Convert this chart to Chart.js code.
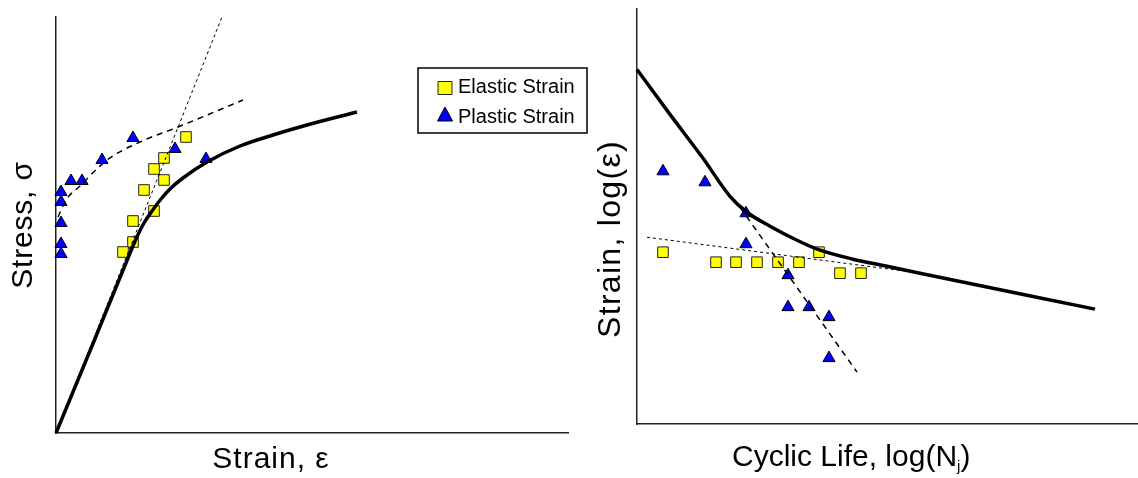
<!DOCTYPE html>
<html>
<head>
    <title>Stress-Strain and Strain-Life</title>
    <script src="https://cdn.jsdelivr.net/npm/chart.js"></script>
    <style>
        html, body {
            margin: 0;
            overflow: hidden;
            background-color: white;
            font-family: "Liberation Sans", Arial, sans-serif;
        }

        .panel {
            position: absolute;
            top: 0;
        }

        canvas {
            display: block;
        }

        #stressPanel { left: 0; width: 600px; height: 478px; }
        #lifePanel { left: 570px; width: 580px; height: 478px; }
    </style>
</head>
<body>
    <div class="panel" id="stressPanel"><canvas id="stressChart" width="600" height="478"></canvas></div>
    <div class="panel" id="lifePanel"><canvas id="lifeChart" width="580" height="478"></canvas></div>

    <script>
        // Left panel: stress vs strain (arbitrary units, origin at axes corner)
        const stressCurveX = [0, 36, 72, 80, 88, 96, 105, 115, 127, 151, 184, 217, 251, 301];
        const stressCurveY = [0, 87, 175, 194, 210, 222, 234, 245, 255, 271, 287, 298, 308, 321];
        const elasticFitX = [0, 166];
        const elasticFitY = [0, 416];
        const plasticFitX = [2, 10, 24, 51, 84, 122, 187];
        const plasticFitY = [216, 233, 247, 273, 291, 306, 333];
        const elasticStrainX = [130, 108, 98, 108, 88, 98, 77, 77, 67];
        const elasticStrainY = [296, 275, 264, 253, 243, 222, 212, 191, 181];
        const plasticStrainX = [5, 5, 5, 5, 5, 15, 26, 46, 77, 119, 150];
        const plasticStrainY = [241, 231, 210, 189, 179, 252, 252, 273, 295, 284, 274];

        // Right panel: log strain vs log cyclic life
        const lifeCurveX = [0, 33, 66, 93, 110, 133, 160, 183, 216, 250, 283, 458];
        const lifeCurveY = [355, 310, 266, 228, 212, 198, 184, 174, 165, 158, 151, 115];
        const plasticLifeFitX = [103, 220];
        const plasticLifeFitY = [217, 52];
        const elasticLifeFitX = [10, 276];
        const elasticLifeFitY = [187, 152];
        const elasticLifeX = [26, 79, 99, 120, 141, 162, 182, 203, 224];
        const elasticLifeY = [172, 162, 162, 162, 162, 162, 172, 151, 151];
        const plasticLifeX = [26, 68, 109, 109, 151, 151, 172, 192, 192];
        const plasticLifeY = [253, 242, 211, 180, 149, 117, 117, 107, 66];

        const FONT = '"Liberation Sans", Arial, sans-serif';

        function pts(xs, ys) {
            return xs.map((x, i) => ({ x: x, y: ys[i] }));
        }

        function curve(xs, ys) {
            return {
                data: pts(xs, ys), showLine: true, pointRadius: 0,
                borderColor: '#000', borderWidth: 3.5,
                cubicInterpolationMode: 'monotone', order: 0, clip: false
            };
        }

        function dashed(xs, ys, dash, width) {
            return {
                data: pts(xs, ys), showLine: true, pointRadius: 0,
                borderColor: '#000', borderWidth: width, borderDash: dash,
                cubicInterpolationMode: 'monotone', order: 1, clip: false
            };
        }

        function squares(label, xs, ys) {
            return {
                label: label, data: pts(xs, ys), showLine: false,
                pointStyle: 'rect', pointRadius: 7.5, pointHoverRadius: 7.5,
                backgroundColor: '#ffff00', borderColor: '#222', pointBorderWidth: 1,
                order: 2, clip: false
            };
        }

        function triangles(label, xs, ys) {
            return {
                label: label, data: pts(xs, ys), showLine: false,
                pointStyle: 'triangle', pointRadius: 7, pointHoverRadius: 7,
                backgroundColor: '#0000ff', borderColor: '#000', pointBorderWidth: 1,
                order: 2, clip: false
            };
        }

        // axis titles drawn at fixed spots, with optional subscript part
        const axisTitles = {
            id: 'axisTitles',
            afterDraw(chart, args, opts) {
                const ctx = chart.ctx;
                ctx.save();
                ctx.fillStyle = '#000';
                ctx.textBaseline = 'middle';
                opts.items.forEach(t => {
                    const size = t.size || 30;
                    ctx.save();
                    ctx.translate(t.x, t.y);
                    if (t.rotate) ctx.rotate(-Math.PI / 2);
                    ctx.font = size + 'px ' + FONT;
                    ctx.letterSpacing = t.spacing || '0px';
                    ctx.textAlign = t.align || 'center';
                    ctx.fillText(t.text, 0, 0);
                    if (t.sub) {
                        let x = ctx.measureText(t.text).width;
                        ctx.textAlign = 'left';
                        ctx.font = '15px ' + FONT;
                        ctx.fillText(t.sub, x, 9);
                        x += ctx.measureText(t.sub).width;
                        ctx.font = size + 'px ' + FONT;
                        ctx.fillText(t.after, x, 0);
                    }
                    ctx.restore();
                });
                ctx.restore();
            }
        };

        // boxed legend inside the plot
        const boxLegend = {
            id: 'boxLegend',
            afterDraw(chart, args, opts) {
                if (!opts.box) return;
                const ctx = chart.ctx;
                const b = opts.box;
                ctx.save();
                ctx.fillStyle = '#fff';
                ctx.fillRect(b.x, b.y, b.w, b.h);
                ctx.strokeStyle = '#000';
                ctx.lineWidth = 1.5;
                ctx.strokeRect(b.x, b.y, b.w, b.h);
                const items = chart.data.datasets.filter(d => d.label);
                items.forEach((d, i) => {
                    const cx = b.x + 27;
                    const cy = b.y + 20 + i * 27;
                    ctx.fillStyle = d.backgroundColor;
                    ctx.strokeStyle = d.borderColor;
                    ctx.lineWidth = 1;
                    ctx.beginPath();
                    if (d.pointStyle === 'rect') {
                        ctx.rect(cx - 7, cy - 6.5, 14, 13);
                    } else {
                        ctx.moveTo(cx, cy - 8);
                        ctx.lineTo(cx + 7.5, cy + 6);
                        ctx.lineTo(cx - 7.5, cy + 6);
                        ctx.closePath();
                    }
                    ctx.fill();
                    ctx.stroke();
                    ctx.fillStyle = '#000';
                    ctx.font = '20px ' + FONT;
                    ctx.textAlign = 'left';
                    ctx.textBaseline = 'middle';
                    ctx.fillText(d.label, cx + 13, cy + (i ? 2 : -1));
                });
                ctx.restore();
            }
        };

        function axis(max) {
            return {
                type: 'linear', min: 0, max: max,
                ticks: { display: false },
                grid: { display: false, drawTicks: false },
                border: { display: true, color: '#222', width: 1.5 }
            };
        }

        function makeChart(id, datasets, xMax, yMax, padding, titles, box) {
            return new Chart(document.getElementById(id), {
                type: 'scatter',
                data: { datasets: datasets },
                options: {
                    responsive: false,
                    animation: false,
                    devicePixelRatio: 1,
                    layout: { padding: padding },
                    scales: { x: axis(xMax), y: axis(yMax) },
                    plugins: {
                        legend: { display: false },
                        tooltip: { enabled: false },
                        axisTitles: { items: titles },
                        boxLegend: { box: box }
                    }
                },
                plugins: [axisTitles, boxLegend]
            });
        }

        makeChart('stressChart', [
            curve(stressCurveX, stressCurveY),
            dashed(elasticFitX, elasticFitY, [3, 3], 1),
            dashed(plasticFitX, plasticFitY, [6, 5], 1.5),
            squares('Elastic Strain', elasticStrainX, elasticStrainY),
            triangles('Plastic Strain', plasticStrainX, plasticStrainY)
        ], 512, 416, { left: 56, top: 17, right: 32, bottom: 45 }, [
            { text: 'Stress, \u03c3', x: 24, y: 225, rotate: true, spacing: '0.8px' },
            { text: 'Strain, \u03b5', x: 271, y: 460, spacing: '1px' }
        ], { x: 418, y: 68, w: 169, h: 65 });

        makeChart('lifeChart', [
            curve(lifeCurveX, lifeCurveY),
            dashed(elasticLifeFitX, elasticLifeFitY, [3, 3], 1),
            dashed(plasticLifeFitX, plasticLifeFitY, [6, 5], 1.5),
            squares('Elastic Strain', elasticLifeX, elasticLifeY),
            triangles('Plastic Strain', plasticLifeX, plasticLifeY)
        ], 501, 416, { left: 67, top: 8, right: 12, bottom: 54 }, [
            { text: 'Strain, log(\u03b5)', x: 41, y: 239, rotate: true, size: 32, spacing: '1.3px' },
            { text: 'Cyclic Life, log(N', sub: 'j', after: ')', x: 162, y: 458, align: 'left' }
        ], null);
    </script>
</body>
</html>
